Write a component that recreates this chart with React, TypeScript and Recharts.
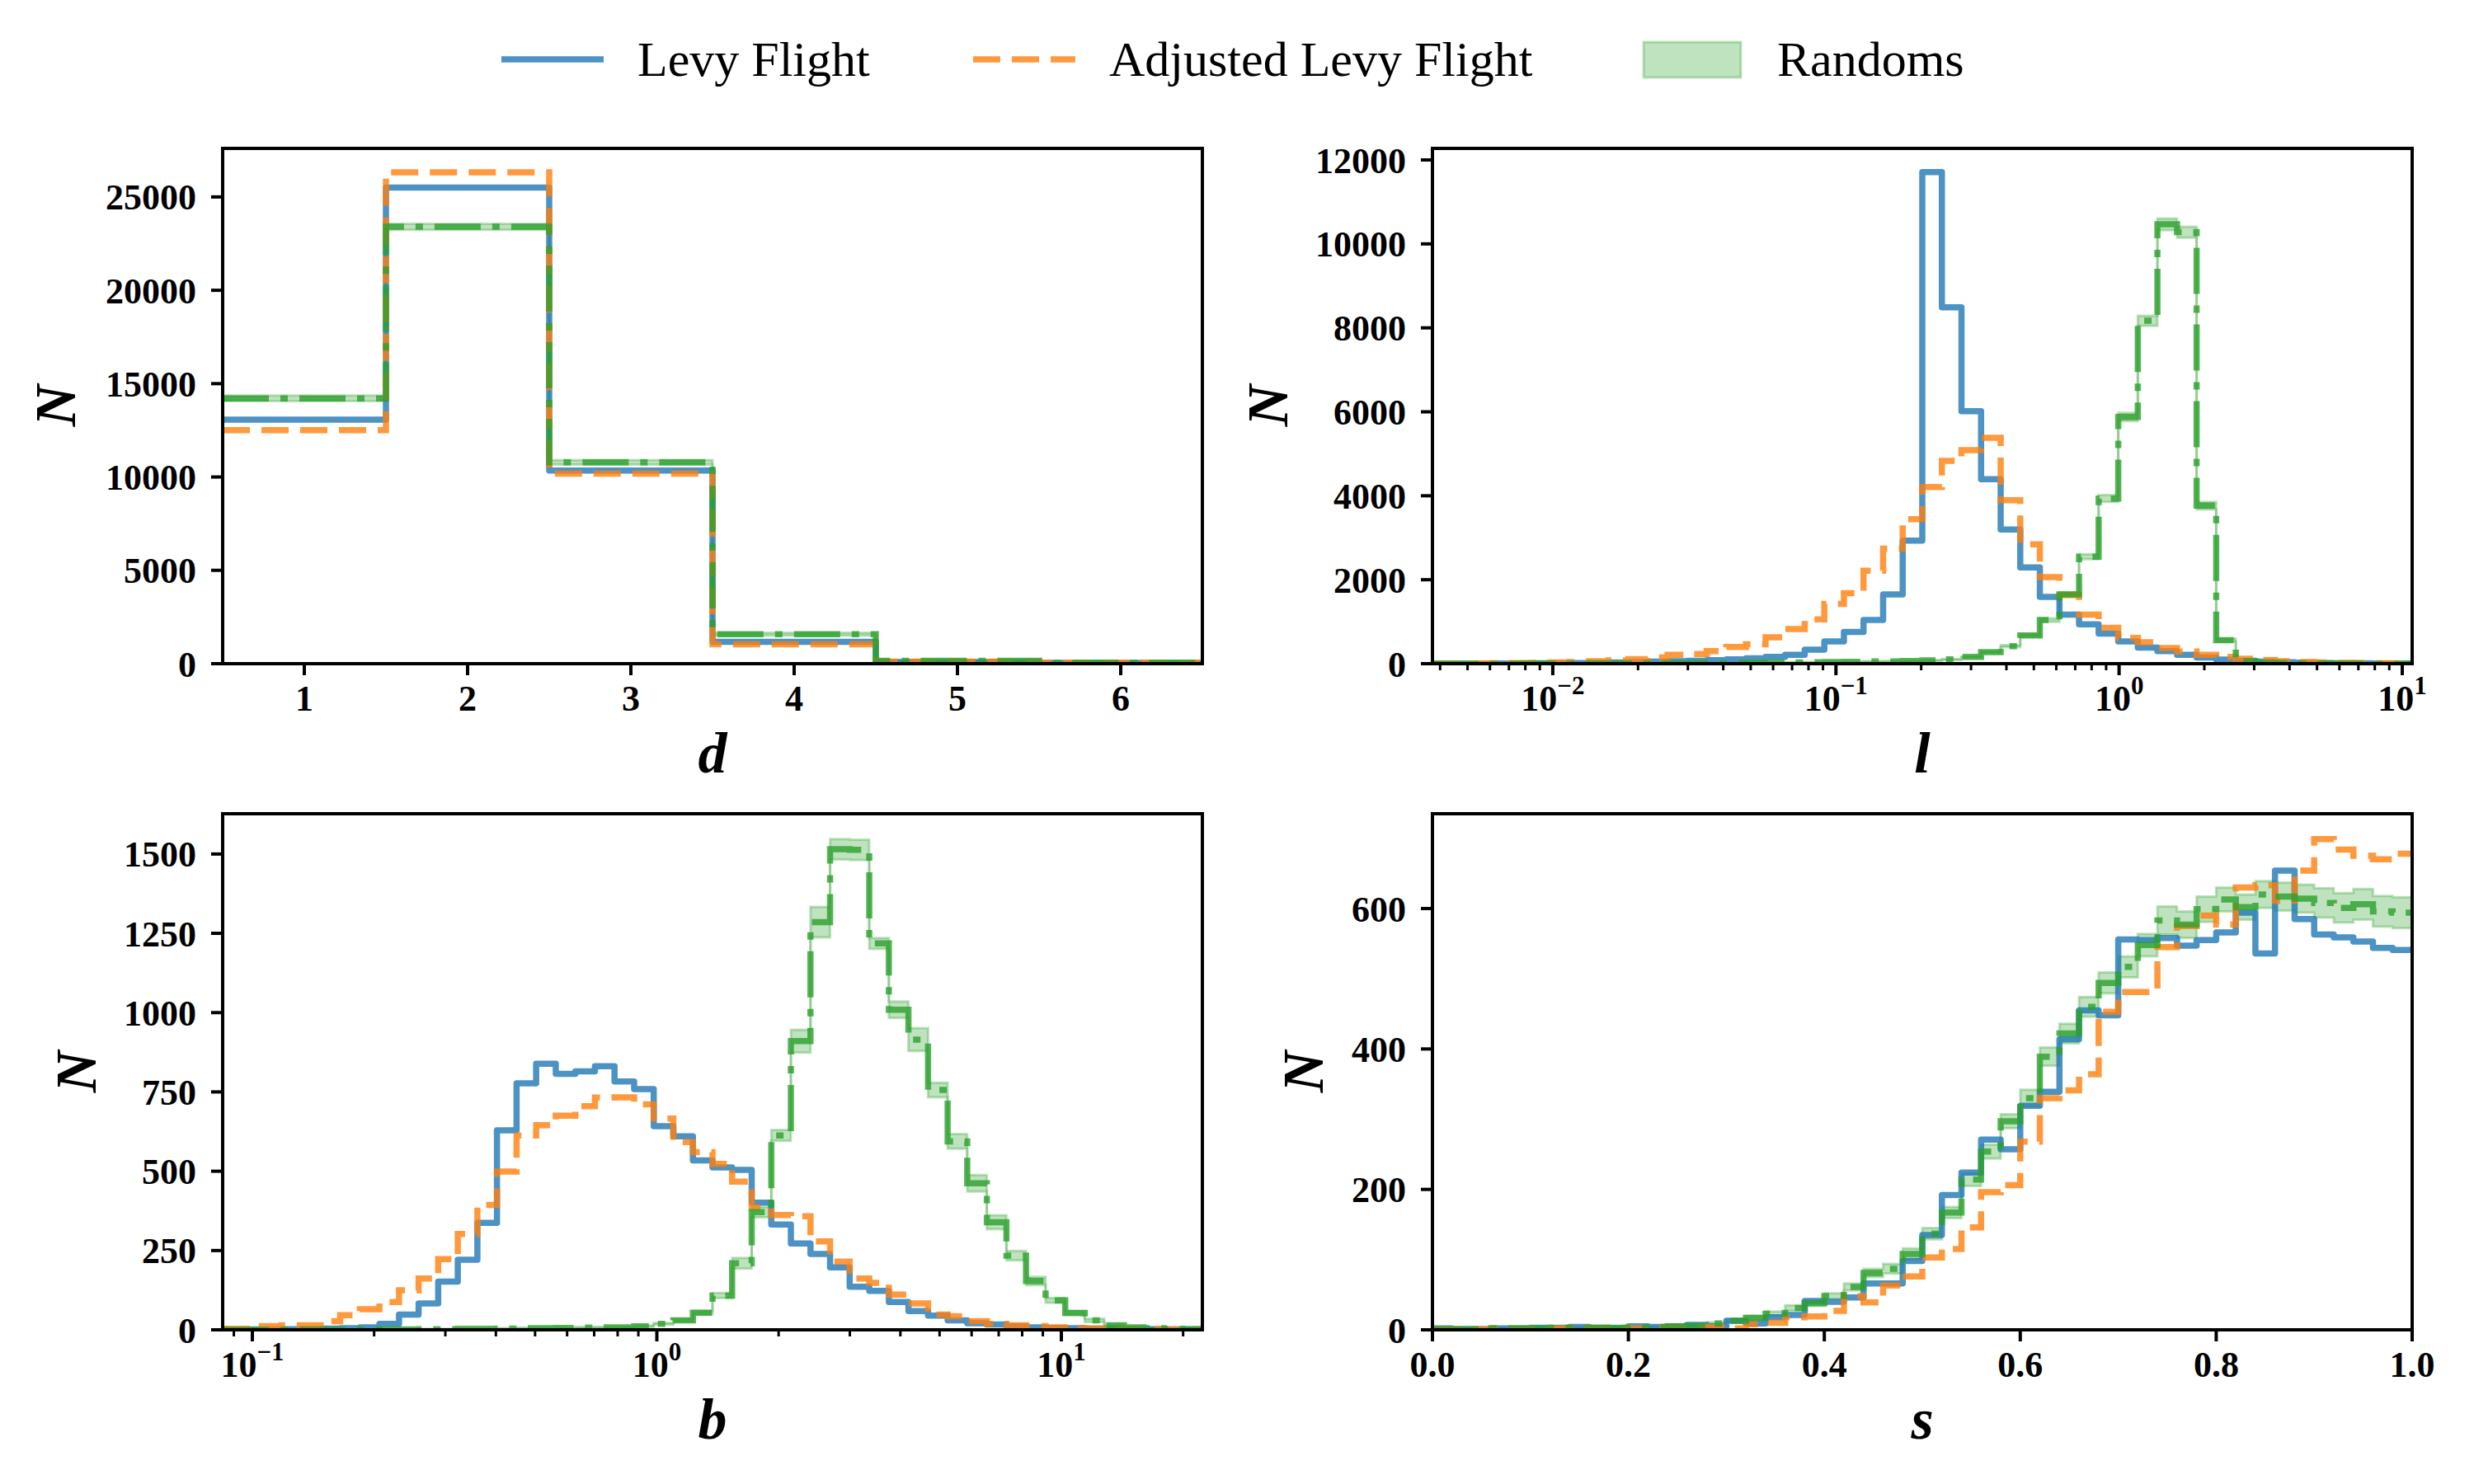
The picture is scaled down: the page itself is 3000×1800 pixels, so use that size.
import React from 'react';
import { ComposedChart, Line, Area, XAxis, YAxis } from 'recharts';

const FONT = '"Liberation Serif", "Times New Roman", serif';
const BLUE = '#1f77b4';
const ORANGE = '#ff7f0e';
const GREEN = '#2ca02c';

// histogram bins
const logBins = (lo: number, hi: number, n: number) =>
    Array.from({ length: n + 1 }, (_, i) => Math.pow(10, lo + ((hi - lo) * i) / n));

const dEdges = [0.5, 1.5, 2.5, 3.5, 4.5, 5.5, 6.5];
const lEdges = logBins(-2.425, 1.035, 50);
const bEdges = logBins(-1.0734, 1.3486, 50);
const sEdges = Array.from({ length: 51 }, (_, i) => i / 50);

// d
const dLevy = [13070, 25500, 10350, 1170, 90, 40];
const dAdjusted = [12510, 26320, 10180, 1040, 110, 50];
const dRandoms = [14210, 23400, 10790, 1580, 150, 60];
const dRandomsErr = [150, 160, 120, 80, 20, 10];

// l
const lLevy = [
    1, 1, 2, 3, 5, 8, 10, 15, 20, 30, 40, 50, 60, 68, 85, 102, 128, 162, 213, 332,
    528, 758, 1039, 1652, 2930, 11711, 8491, 6013, 4395, 3194, 2291, 1593, 1167, 937, 715, 528, 383, 298, 213, 145,
    100, 70, 50, 35, 25, 15, 10, 8, 5, 3,
];
const lAdjusted = [
    2, 3, 5, 10, 15, 20, 30, 40, 60, 80, 110, 145, 213, 230, 298, 400, 460, 630, 826, 1056,
    1422, 1678, 2214, 2742, 3441, 4207, 4829, 5085, 5383, 3892, 2845, 2061, 1635, 1167, 852, 613, 511, 375, 290, 213,
    160, 120, 90, 60, 40, 30, 20, 15, 10, 5,
];
const lRandoms = [
    0, 0, 0, 0, 0, 1, 1, 2, 3, 4, 5, 6, 8, 10, 12, 14, 19, 24, 31, 33,
    41, 44, 52, 55, 63, 77, 102, 162, 273, 417, 673, 1039, 1652, 2547, 3935, 5877, 8168, 10467, 10280, 3765,
    560, 60, 20, 10, 5, 3, 2, 1, 0, 0,
];
const lRandomsErr = [
    1, 1, 1, 1, 1, 1, 1, 1, 2, 2, 2, 2, 3, 3, 3, 3, 4, 4, 5, 5,
    5, 6, 6, 7, 8, 10, 12, 15, 20, 25, 30, 40, 50, 60, 80, 100, 120, 140, 130, 90,
    40, 10, 5, 3, 2, 1, 1, 1, 0, 0,
];

// b
const bLevy = [
    0, 1, 1, 2, 3, 4, 5, 8, 19, 48, 83, 152, 221, 337, 629, 777, 839, 807, 815, 831,
    783, 759, 642, 610, 534, 512, 504, 401, 332, 272, 239, 197, 136, 123, 88, 59, 45, 30, 21, 17,
    11, 8, 6, 5, 4, 3, 2, 2, 1, 1,
];
const bAdjusted = [
    3, 3, 12, 14, 14, 27, 46, 65, 88, 125, 162, 223, 302, 394, 499, 613, 645, 675, 705, 732,
    733, 711, 666, 592, 560, 523, 467, 385, 362, 358, 279, 215, 162, 148, 111, 83, 48, 43, 27, 19,
    14, 12, 8, 5, 4, 3, 2, 2, 1, 1,
];
const bRandoms = [
    0, 0, 0, 0, 0, 0, 0, 1, 1, 1, 2, 2, 3, 3, 4, 5, 5, 6, 7, 8,
    8, 11, 19, 30, 54, 108, 210, 371, 613, 910, 1285, 1515, 1513, 1218, 1009, 915, 756, 594, 462, 339,
    234, 154, 93, 53, 30, 14, 8, 5, 3, 2,
];
const bRandomsErr = [
    1, 1, 1, 1, 1, 1, 1, 1, 1, 1, 1, 1, 1, 1, 1, 2, 2, 2, 2, 2,
    2, 3, 3, 4, 5, 8, 17, 16, 17, 36, 48, 32, 32, 17, 26, 36, 23, 23, 26, 22,
    15, 13, 8, 6, 5, 3, 2, 2, 2, 2,
];

// s
const sLevy = [
    2, 1, 1, 2, 2, 3, 3, 4, 3, 2, 5, 4, 5, 7, 5, 13, 9, 18, 21, 41,
    40, 46, 66, 66, 98, 135, 192, 224, 271, 257, 319, 339, 414, 455, 448, 556, 555, 558, 547, 555,
    566, 594, 536, 654, 585, 563, 559, 553, 544, 541,
];
const sAdjusted = [
    1, 1, 1, 2, 1, 2, 2, 3, 2, 3, 2, 3, 3, 4, 4, 2, 8, 10, 18, 19,
    27, 48, 39, 63, 76, 103, 115, 146, 196, 206, 268, 330, 341, 364, 453, 481, 481, 545, 575, 590,
    577, 630, 633, 611, 654, 699, 684, 675, 670, 678,
];
const sRandoms = [
    1, 1, 1, 2, 2, 2, 3, 3, 3, 3, 3, 4, 5, 6, 9, 13, 17, 23, 31, 38,
    48, 61, 81, 87, 108, 137, 167, 214, 254, 297, 330, 389, 422, 460, 494, 517, 548, 583, 577, 599,
    613, 602, 620, 617, 614, 608, 601, 606, 596, 594,
];
const sRandomsErr = [
    1, 1, 1, 1, 1, 1, 1, 1, 1, 1, 1, 1, 1, 1, 2, 2, 3, 3, 4, 4,
    4, 5, 6, 7, 8, 8, 8, 9, 10, 10, 12, 13, 14, 14, 15, 15, 16, 20, 19, 18,
    17, 18, 19, 20, 20, 21, 21, 22, 22, 22,
];

// ticks
const dTicks = [1, 2, 3, 4, 5, 6];
const lMajor = [0.01, 0.1, 1, 10];
const bMajor = [0.1, 1, 10];
const sTicks = [0, 0.2, 0.4, 0.6, 0.8, 1.0];
const dYTicks = [0, 5000, 10000, 15000, 20000, 25000];
const lYTicks = [0, 2000, 4000, 6000, 8000, 10000, 12000];
const bYTicks = [0, 250, 500, 750, 1000, 1250, 1500];
const sYTicks = [0, 200, 400, 600];

const withMinors = (major: number[], lo: number, hi: number) => {
    const out = [...major];
    [0.001, 0.01, 0.1, 1, 10].forEach((dec) => {
        for (let m = 2; m <= 9; m++) {
            const v = dec * m;
            if (v > lo && v < hi) out.push(v);
        }
    });
    return out.sort((a, b) => a - b);
};

function buildRows(edges: number[], levy: number[], adjusted: number[], randoms: number[], err: number[]) {
    return edges.map((x, i) => {
        const j = Math.min(i, levy.length - 1);
        return {
            x,
            levy: levy[j],
            adjusted: adjusted[j],
            randoms: randoms[j],
            band: [Math.max(0, randoms[j] - err[j]), randoms[j] + err[j]],
        };
    });
}

const Y_W = 250;
const X_H = 100;
const PAD = 10;
const RIGHT = 70;
const LW = 7.5;

// plot areas: [left, top, width, height]
const frames: [number, number, number, number][] = [
    [270, 180, 1188, 625],
    [1737, 180, 1188, 625],
    [270, 987, 1188, 626],
    [1737, 987, 1188, 626],
];

function XTick(props: any) {
    const { x, y, payload, log, fmt } = props;
    const v = payload.value;
    if (log) {
        const e = Math.round(Math.log10(v));
        const major = Math.abs(Math.log10(v) - e) < 1e-6;
        return (
            <g>
                <line x1={x} x2={x} y1={y} y2={y + (major ? 14 : 8)} stroke="#000" strokeWidth={major ? 4 : 3} />
                {major && (
                    <text x={x} y={y + 57} textAnchor="middle" fontFamily={FONT} fontSize={44} fontWeight="bold" fill="#000">
                        10
                        <tspan dy={-20} fontSize={31}>
                            {e < 0 ? '\u2212' + -e : String(e)}
                        </tspan>
                    </text>
                )}
            </g>
        );
    }
    return (
        <g>
            <line x1={x} x2={x} y1={y} y2={y + 14} stroke="#000" strokeWidth={4} />
            <text x={x} y={y + 57} textAnchor="middle" fontFamily={FONT} fontSize={44} fontWeight="bold" fill="#000">
                {fmt(v)}
            </text>
        </g>
    );
}

type PanelProps = {
    frame: [number, number, number, number];
    rows: any[];
    xDomain: [number, number];
    xTicks: number[];
    log?: boolean;
    fmt?: (v: number) => string;
    yDomain: [number, number];
    yTicks: number[];
};

function Panel({ frame, rows, xDomain, xTicks, log, fmt, yDomain, yTicks }: PanelProps) {
    const [left, top, w, h] = frame;
    const border = { stroke: '#000', strokeWidth: 4 };
    return (
        <div style={{ position: 'absolute', left: left - Y_W, top: top - PAD }}>
            <ComposedChart
                width={w + Y_W + RIGHT}
                height={h + X_H + PAD}
                data={rows}
                margin={{ top: PAD, right: RIGHT, left: 0, bottom: 0 }}
            >
                <XAxis
                    dataKey="x"
                    type="number"
                    scale={log ? 'log' : 'linear'}
                    domain={xDomain}
                    allowDataOverflow
                    ticks={xTicks}
                    interval={0}
                    height={X_H}
                    tickSize={0}
                    tickMargin={0}
                    tickLine={false}
                    axisLine={border}
                    tick={(p: any) => <XTick {...p} log={log} fmt={fmt || String} />}
                />
                <YAxis
                    type="number"
                    domain={yDomain}
                    allowDataOverflow
                    ticks={yTicks}
                    interval={0}
                    width={Y_W}
                    tickSize={14}
                    tickMargin={18}
                    tickLine={{ stroke: '#000', strokeWidth: 4 }}
                    axisLine={border}
                    tick={{ fontFamily: FONT, fontSize: 44, fontWeight: 'bold', fill: '#000' }}
                />
                <Line
                    dataKey="levy"
                    type="stepAfter"
                    stroke={BLUE}
                    strokeOpacity={0.8}
                    strokeWidth={LW}
                    strokeLinejoin="round"
                    dot={false}
                    activeDot={false}
                    isAnimationActive={false}
                />
                <Line
                    dataKey="adjusted"
                    type="stepAfter"
                    stroke={ORANGE}
                    strokeOpacity={0.8}
                    strokeWidth={LW}
                    strokeDasharray="33 14"
                    dot={false}
                    activeDot={false}
                    isAnimationActive={false}
                />
                <Area
                    dataKey="band"
                    type="stepAfter"
                    fill={GREEN}
                    fillOpacity={0.3}
                    stroke={GREEN}
                    strokeOpacity={0.3}
                    strokeWidth={3}
                    dot={false}
                    activeDot={false}
                    isAnimationActive={false}
                />
                <Line
                    dataKey="randoms"
                    type="stepAfter"
                    stroke={GREEN}
                    strokeOpacity={0.8}
                    strokeWidth={LW}
                    strokeDasharray="56 14 9 14"
                    dot={false}
                    activeDot={false}
                    isAnimationActive={false}
                />
            </ComposedChart>
        </div>
    );
}

function Overlay() {
    const label = { fontFamily: FONT, fontSize: 70, fontWeight: 'bold', fontStyle: 'italic', fill: '#000' } as const;
    const legendText = { fontFamily: FONT, fontSize: 60, fill: '#000' } as const;
    const n = (cx: number, cy: number) => (
        <text x={cx + 23} y={cy} textAnchor="middle" transform={`rotate(-90 ${cx + 23} ${cy})`} {...label}>
            N
        </text>
    );
    return (
        <svg width={3000} height={1800} style={{ position: 'absolute', left: 0, top: 0, pointerEvents: 'none' }}>
            {frames.map(([x, y, w, h], i) => (
                <rect key={i} x={x} y={y} width={w} height={h} fill="none" stroke="#000" strokeWidth={4} />
            ))}
            <line x1={608} x2={732} y1={72} y2={72} stroke={BLUE} strokeOpacity={0.8} strokeWidth={LW} />
            <text x={773} y={92} {...legendText}>Levy Flight</text>
            <line x1={1180} x2={1304} y1={72} y2={72} stroke={ORANGE} strokeOpacity={0.8} strokeWidth={LW} strokeDasharray="33 14" />
            <text x={1345} y={92} {...legendText}>Adjusted Levy Flight</text>
            <rect x={1993} y={51} width={118} height={43} fill={GREEN} fillOpacity={0.3} stroke={GREEN} strokeOpacity={0.3} strokeWidth={3} />
            <text x={2155} y={92} {...legendText}>Randoms</text>

            <text x={864} y={937} textAnchor="middle" {...label}>d</text>
            <text x={2331} y={937} textAnchor="middle" {...label}>l</text>
            <text x={864} y={1745} textAnchor="middle" {...label}>b</text>
            <text x={2331} y={1745} textAnchor="middle" {...label}>s</text>
            {n(68, 492)}
            {n(1538, 492)}
            {n(93, 1300)}
            {n(1581, 1300)}
        </svg>
    );
}

export default function App() {
    const dRows = buildRows(dEdges, dLevy, dAdjusted, dRandoms, dRandomsErr);
    const lRows = buildRows(lEdges, lLevy, lAdjusted, lRandoms, lRandomsErr);
    const bRows = buildRows(bEdges, bLevy, bAdjusted, bRandoms, bRandomsErr);
    const sRows = buildRows(sEdges, sLevy, sAdjusted, sRandoms, sRandomsErr);
    const lLo = lEdges[0];
    const lHi = lEdges[lEdges.length - 1];
    const bLo = bEdges[0];
    const bHi = bEdges[bEdges.length - 1];

    return (
        <div style={{ position: 'absolute', left: 0, top: 0, width: 3000, height: 1800, background: '#fff' }}>
            <Panel
                frame={frames[0]}
                rows={dRows}
                xDomain={[0.5, 6.5]}
                xTicks={dTicks}
                yDomain={[0, 27600]}
                yTicks={dYTicks}
            />
            <Panel
                frame={frames[1]}
                rows={lRows}
                log
                xDomain={[lLo, lHi]}
                xTicks={withMinors(lMajor, lLo, lHi)}
                yDomain={[0, 12275]}
                yTicks={lYTicks}
            />
            <Panel
                frame={frames[2]}
                rows={bRows}
                log
                xDomain={[bLo, bHi]}
                xTicks={withMinors(bMajor, bLo, bHi)}
                yDomain={[0, 1627]}
                yTicks={bYTicks}
            />
            <Panel
                frame={frames[3]}
                rows={sRows}
                xDomain={[0, 1]}
                xTicks={sTicks}
                fmt={(v) => v.toFixed(1)}
                yDomain={[0, 735]}
                yTicks={sYTicks}
            />
            <Overlay />
        </div>
    );
}
